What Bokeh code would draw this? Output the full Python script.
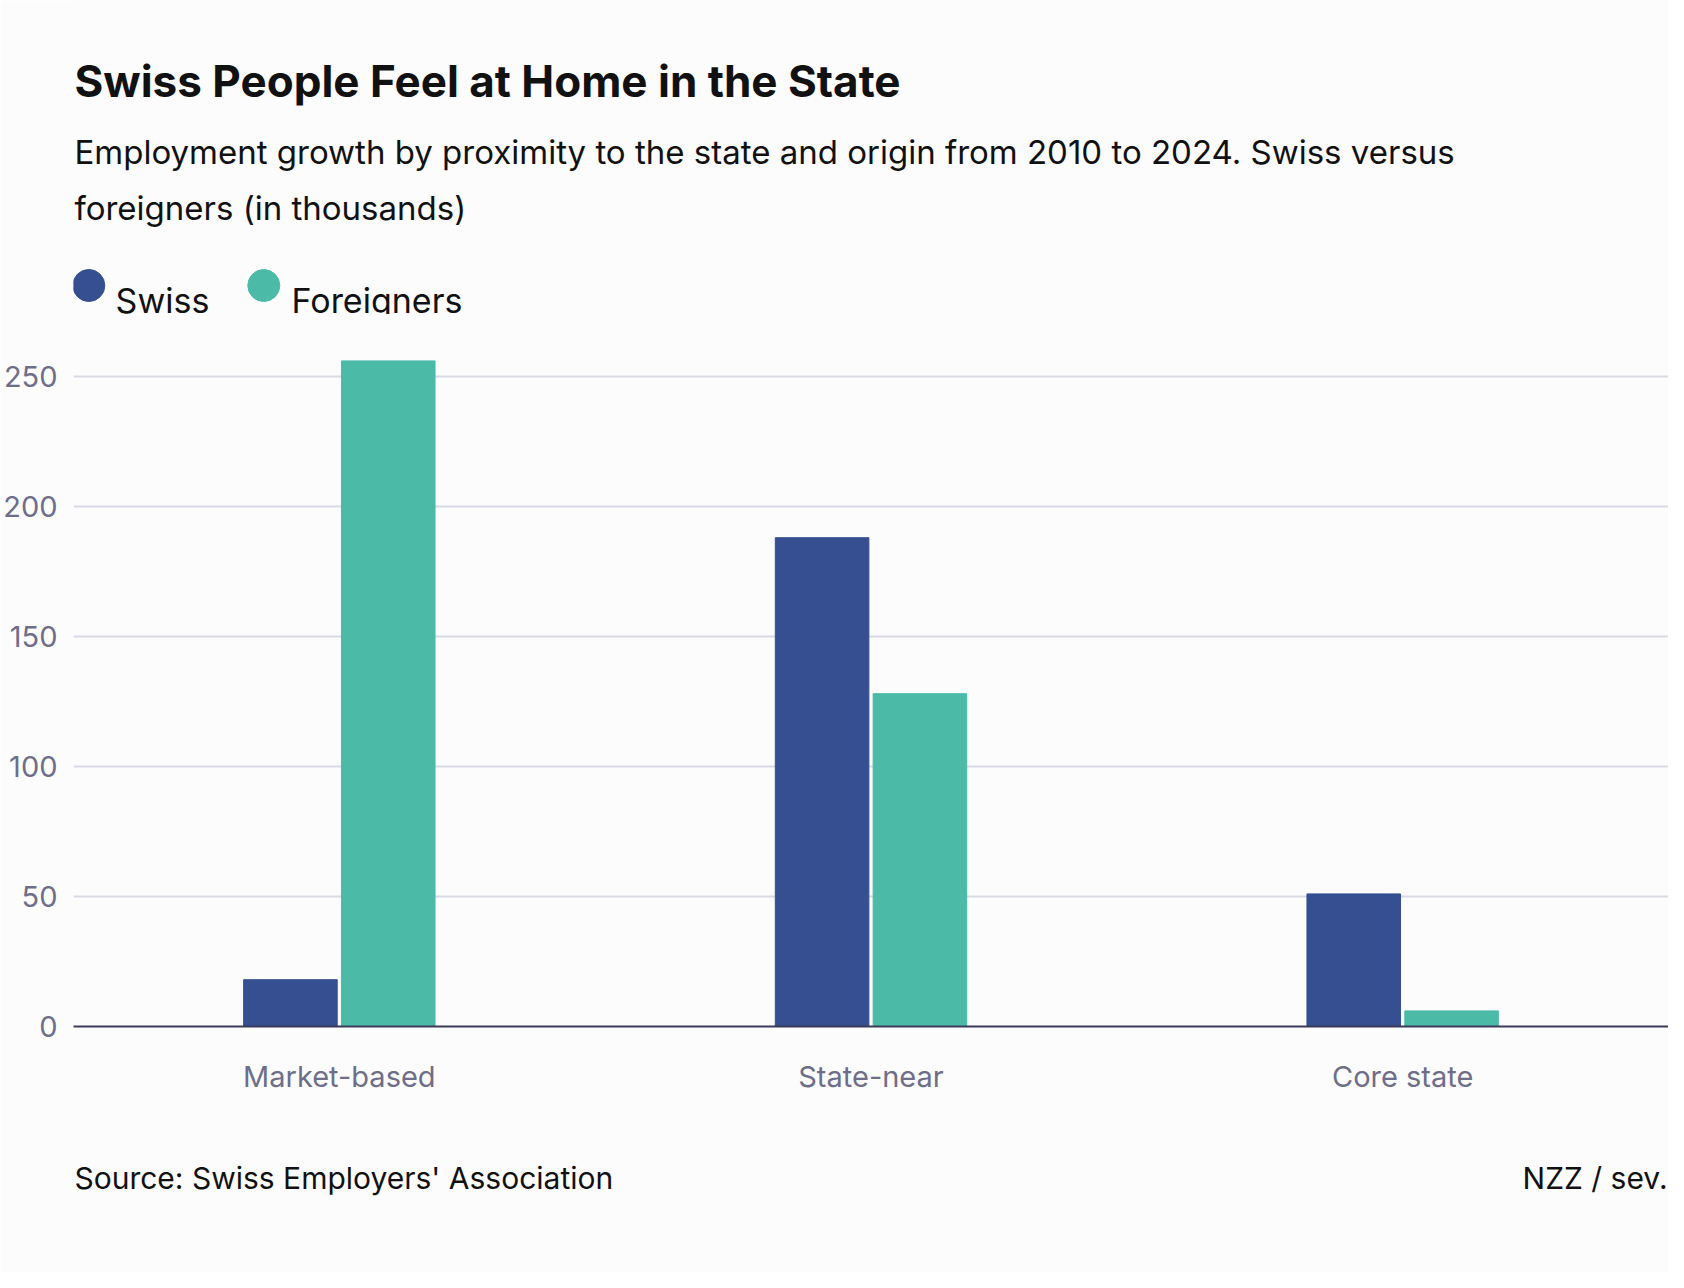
from bokeh.plotting import figure
from bokeh.models import ColumnDataSource, FactorRange, FixedTicker
from bokeh.layouts import column
from bokeh.transform import dodge
from bokeh.core.properties import value
from bokeh.embed import file_html
from bokeh.resources import INLINE

categories = ["Market-based", "State-near", "Core state"]
swiss = [18, 188, 51]
foreigners = [256, 128, 6]
y_ticks = [0, 50, 100, 150, 200, 250]
series_names = ["Swiss", "Foreigners"]
colors = ["#354f91", "#4bbba8"]

W = 1668
BG = "#fcfcfc"
HH, MH, FH = 314, 792, 166

def blank(h):
    f = figure(width=W, height=h, x_range=(0, W), y_range=(0, h), output_backend="svg",
               toolbar_location=None, min_border=0, background_fill_color=BG,
               border_fill_color=BG)
    f.axis.visible = False
    f.grid.visible = False
    f.outline_line_color = None
    return f

def txt(f, h, x, ytop, t, size, style="normal", align="left", color="#111111"):
    f.text(x=[x], y=[h - ytop], text=[t], text_font=value("Inter"),
           text_font_size=f"{size}px", text_font_style=style, text_align=align,
           text_baseline="alphabetic", text_color=color)

head = blank(HH)
txt(head, HH, 1, 80, "Swiss People Feel at Home in the State", 44, "bold")
txt(head, HH, 1, 151, "Employment growth by proximity to the state and origin from 2010 to 2024. Swiss versus", 33)
txt(head, HH, 1, 207, "foreigners (in thousands)", 33)
head.scatter(x=[16, 199], y=[HH - 285, HH - 285], size=32, marker="circle", color=colors)
txt(head, HH, 44, 300, series_names[0], 34)
txt(head, HH, 228, 300, series_names[1], 34)

L, T, B = 67, 10, 80
src = ColumnDataSource(dict(cat=categories, swiss=swiss, foreigners=foreigners))
p = figure(x_range=FactorRange(*categories, range_padding=0), y_range=(0, 270),
           width=W, height=MH, output_backend="svg", toolbar_location=None,
           min_border_left=L, min_border_right=0, min_border_top=T, min_border_bottom=B,
           background_fill_color=BG, border_fill_color=BG)
p.outline_line_color = None
p.vbar(x=dodge("cat", -0.092, range=p.x_range), top="swiss", width=0.176, source=src,
       color=colors[0])
p.vbar(x=dodge("cat", 0.092, range=p.x_range), top="foreigners", width=0.176, source=src,
       color=colors[1])
p.xgrid.grid_line_color = None
p.ygrid.grid_line_color = "#d9d9e6"
p.ygrid.grid_line_width = 2
p.yaxis.ticker = FixedTicker(ticks=y_ticks)
p.yaxis.axis_line_color = None
p.yaxis.major_tick_line_color = None
p.yaxis.minor_tick_line_color = None
p.yaxis.major_label_standoff = 10
for ax in (p.xaxis, p.yaxis):
    ax.major_label_text_font = "Inter"
    ax.major_label_text_font_size = "29px"
    ax.major_label_text_color = "#6e6e8a"
p.xaxis.axis_line_color = "#3a3a5a"
p.xaxis.axis_line_width = 2
p.xaxis.major_tick_line_color = None
p.xaxis.major_label_standoff = 26

foot = blank(FH)
txt(foot, FH, 1, 71, "Source: Swiss Employers' Association", 30)
txt(foot, FH, 1667, 71, "NZZ / sev.", 30, align="right")

layout = column(head, p, foot, spacing=0)
open("out.html", "w").write(file_html(layout, INLINE))
